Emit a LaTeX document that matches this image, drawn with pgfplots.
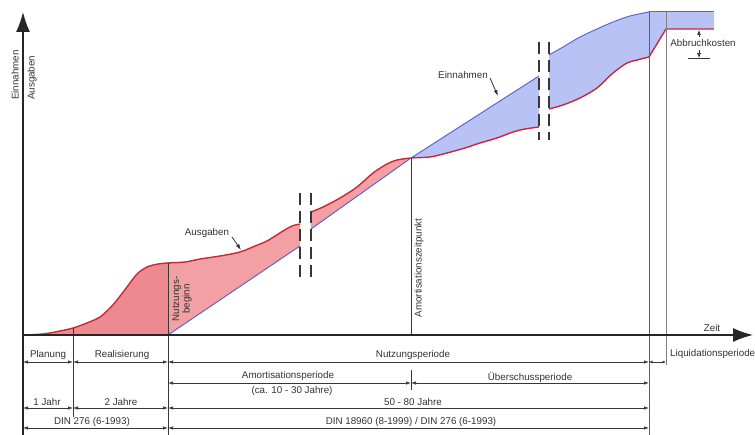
\documentclass[border=0pt]{standalone}
\usepackage{pgfplots}
\pgfplotsset{compat=1.18}
\usepgfplotslibrary{fillbetween}
\usetikzlibrary{arrows.meta}
\usepackage{fontspec}
\setmainfont{Liberation Sans}
\definecolor{redline}{RGB}{200,40,55}
\definecolor{redfillA}{RGB}{237,138,143}
\definecolor{redfill}{RGB}{242,160,163}
\definecolor{blueline}{RGB}{85,105,210}
\definecolor{bluefill}{RGB}{185,194,245}
\definecolor{dark}{RGB}{55,55,55}
\definecolor{txt}{RGB}{50,50,50}
\tikzset{
  lab/.style={font=\fontsize{9.8}{11}\selectfont, text=txt, inner sep=0pt},
  dim/.style={{Latex[length=5pt,width=3.5pt]}-{Latex[length=5pt,width=3.5pt]}, line width=0.7pt, draw=dark},
  brk/.style={line width=1.2pt, draw=dark, dash pattern=on 12pt off 6pt},
}
\begin{document}
\begin{tikzpicture}
\begin{axis}[scale only axis, width=755pt, height=435pt,
  xmin=0, xmax=755, ymin=0, ymax=435, y dir=reverse,
  axis lines=none, clip=false,
]
% ---------- named paths ----------
\addplot[draw=none, smooth, name path=R1] coordinates {(22,335)(43,334)(60,331)(73,328)(87,323)(100,317)(110,308)(117,300)(127,287)(137,274)(147,267)(158,264)(168,263)(185,262)(200,259)(220,256)(240,252)(255,246)(267,241)(283,231)(292,226)(300,224)};
\addplot[draw=none, name path=B1] coordinates {(22,335)(168,335)(300,246)};
\addplot[draw=none, smooth, name path=R2] coordinates {(311,212)(323,207)(340,198)(357,187)(373,173)(387,164)(397,160)(411,158)(430,157)(447,153)(465,148)(480,143)(497,138)(513,132)(525,129)(539,127)};
\addplot[draw=none, name path=B2] coordinates {(311,229)(411,158)(539,76)};
\addplot[draw=none, smooth, name path=R3] coordinates {(549,109)(563,105)(580,98)(597,88)(613,73)(627,63)(637,60)(649,57)};
\addplot[draw=none, smooth, name path=B3] coordinates {(549,55)(563,47)(580,37)(597,29)(613,22)(630,16)(649,12)};
% ---------- fills ----------
\addplot[fill=redfillA, draw=none] fill between[of=R1 and B1, soft clip={domain=22:168}];
\addplot[fill=redfill, draw=none] fill between[of=R1 and B1, soft clip={domain=168:300}];
\addplot[fill=redfill, draw=none] fill between[of=R2 and B2, soft clip={domain=311:411}];
\addplot[fill=bluefill, draw=none] fill between[of=R2 and B2, soft clip={domain=411:539}];
\addplot[fill=bluefill, draw=none] fill between[of=R3 and B3];
\addplot[fill=bluefill, draw=none] coordinates {(649,12)(714,12)(714,29)(666,29)(649,57)} -- cycle;
% ---------- lines ----------
\addplot[redline, line width=1.4pt, smooth] coordinates {(22,335)(43,334)(60,331)(73,328)(87,323)(100,317)(110,308)(117,300)(127,287)(137,274)(147,267)(158,264)(168,263)(185,262)(200,259)(220,256)(240,252)(255,246)(267,241)(283,231)(292,226)(300,224)};
\addplot[blueline, line width=1pt] coordinates {(168,335)(300,246)};
\addplot[redline, line width=1.4pt, smooth] coordinates {(311,212)(323,207)(340,198)(357,187)(373,173)(387,164)(397,160)(411,158)(430,157)(447,153)(465,148)(480,143)(497,138)(513,132)(525,129)(539,127)};
\addplot[blueline, line width=1pt] coordinates {(311,229)(411,158)(539,76)};
\addplot[redline, line width=1.4pt, smooth] coordinates {(549,109)(563,105)(580,98)(597,88)(613,73)(627,63)(637,60)(649,57)};
\addplot[redline, line width=1.4pt] coordinates {(649,57)(666,29)(714,29)};
\addplot[blueline, line width=1pt, smooth] coordinates {(549,55)(563,47)(580,37)(597,29)(613,22)(630,16)(649,12)};
\addplot[blueline, line width=1pt] coordinates {(649,12)(714,12)};
% ---------- verticals ----------
\draw[dark, line width=0.8pt] (73,328) -- (73,417);
\draw[dark, line width=0.8pt] (168,263) -- (168,435);
\draw[dark, line width=0.8pt] (411,158) -- (411,335);
\draw[dark, line width=0.8pt] (411,370) -- (411,390);
\draw[dark!80, line width=0.9pt] (649,12) -- (649,435);
\draw[gray, line width=0.7pt] (666,12) -- (666,365);
% breaks
\draw[brk] (300,193) -- (300,277);
\draw[brk] (311,193) -- (311,277);
\draw[brk] (539,42) -- (539,140);
\draw[brk] (549,42) -- (549,140);
% ---------- axes ----------
\draw[black!85, line width=1.5pt, -{Latex[length=20pt,width=14pt]}] (23,435) -- (23,12);
\draw[black!85, line width=1.5pt, -{Latex[length=20pt,width=14pt]}] (22,335) -- (753,335);
% ---------- dimension rows ----------
\draw[dim] (23,362) -- (73,362);
\draw[dim] (73,362) -- (168,362);
\draw[dim] (168,362) -- (649,362);
\draw[{Latex[length=3.5pt,width=3pt]}-{Latex[length=3.5pt,width=3pt]}, line width=0.6pt, draw=dark] (649,362) -- (666,362);
\draw[dim] (168,383) -- (411,383);
\draw[dim] (411,383) -- (649,383);
\draw[dim] (23,408) -- (73,408);
\draw[dim] (73,408) -- (168,408);
\draw[dim] (168,408) -- (649,408);
\draw[dim] (23,428) -- (168,428);
\draw[dim] (168,428) -- (649,428);
% ---------- texts ----------
\node[lab] at (48,355) {Planung};
\node[lab] at (122,355) {Realisierung};
\node[lab] at (413,355) {Nutzungsperiode};
\node[lab, anchor=west] at (670,354) {Liquidationsperiode};
\node[lab] at (712,328) {Zeit};
\node[lab] at (288,376) {Amortisationsperiode};
\node[lab] at (292,391) {(ca. 10 - 30 Jahre)};
\node[lab] at (530,377) {Überschussperiode};
\node[lab] at (47,402) {1 Jahr};
\node[lab] at (121,402) {2 Jahre};
\node[lab] at (413,402) {50 - 80 Jahre};
\node[lab] at (92,422) {DIN 276 (6-1993)};
\node[lab] at (411,422) {DIN 18960 (8-1999) / DIN 276 (6-1993)};
\node[lab, rotate=90, anchor=west] at (15,100) {Einnahmen};
\node[lab, rotate=90, anchor=west] at (32,100) {Ausgaben};
\node[lab, rotate=90, align=center, font=\fontsize{9.8}{10.5}\selectfont] at (182,299) {Nutzungs-\\beginn};
\node[lab, rotate=90] at (419,268) {Amortisationszeitpunkt};
\node[lab] at (207,233) {Ausgaben};
\draw[dark, line width=0.8pt, -{Latex[length=6pt,width=4pt]}] (232,237) -- (241,250);
\node[lab] at (463,75) {Einnahmen};
\draw[dark, line width=0.8pt, -{Latex[length=6pt,width=4pt]}] (490,78) -- (498,96);
\node[lab] at (703,43) {Abbruchkosten};
\draw[dark, line width=0.7pt, -{Latex[length=5pt,width=4pt]}] (699,37) -- (699,30);
\draw[dark, line width=0.7pt, -{Latex[length=5pt,width=4pt]}] (699,50) -- (699,58);
\draw[dark, line width=0.8pt] (688,58) -- (710,58);
\end{axis}
\pgfresetboundingbox
\path (current axis.south west) rectangle (current axis.north east);
\end{tikzpicture}
\end{document}
